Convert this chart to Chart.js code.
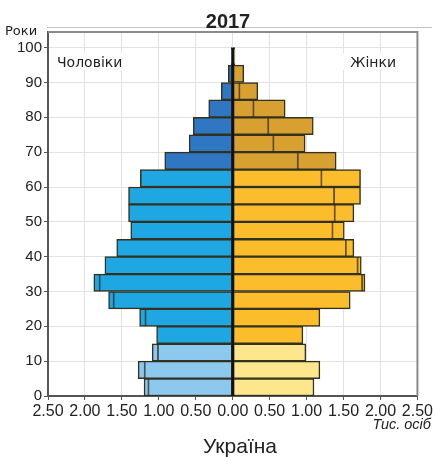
<!DOCTYPE html>
<html><head><meta charset="utf-8">
<script src="https://cdn.jsdelivr.net/npm/chart.js@4/dist/chart.umd.min.js"></script>
<style>html,body{margin:0;padding:0;background:#fff}#wrap{width:435px;height:457px}</style>
</head><body><div id="wrap"><canvas id="c" width="435" height="457"></canvas></div>
<script>
// Age groups (lower bound of each 5-year group)
const ageStarts = [0,5,10,15,20,25,30,35,40,45,50,55,60,65,70,75,80,85,90,95];
const ageGroups = ['0-4','5-9','10-14','15-19','20-24','25-29','30-34','35-39','40-44','45-49','50-54','55-59','60-64','65-69','70-74','75-79','80-84','85-89','90-94','95-99'];
// Population, thousand persons
const maleValues   = [1.20,1.28,1.09,1.03,1.26,1.68,1.88,1.73,1.57,1.38,1.41,1.41,1.25,0.92,0.59,0.535,0.325,0.155,0.06,0.02];
const femaleValues = [1.10,1.18,0.99,0.95,1.18,1.59,1.79,1.74,1.64,1.51,1.64,1.73,1.73,1.40,0.98,1.09,0.71,0.34,0.15,0.03];
// Thin inner marks inside some bars
const maleInner   = [1.15,1.20,1.02,null,1.19,1.62,1.81,null,null,null,null,null,null,null,null,null,null,null,null,null];
const femaleInner = [null,null,null,null,null,null,1.76,1.70,1.54,1.36,1.39,1.38,1.21,0.89,0.56,0.49,0.29,0.10,null,null];
// central axis line between the halves (ages 0..100)
const centerAxisAges = [0, 100];
const yTicks = [0,10,20,30,40,50,60,70,80,90,100];
const xTickStep = 0.5;

const maleColors = {child:'#8dc8ef', work:'#1fa7e3', old:'#2f77c3'};
const femaleColors = {child:'#fde68c', work:'#fbbd2b', old:'#d8a030'};
function colorFor(palette, age){ return age < 15 ? palette.child : (age < 65 ? palette.work : palette.old); }

const FONT = '"Liberation Sans Narrow", "Liberation Sans", Arial, sans-serif';
const FONTW = '"Liberation Sans", Arial, sans-serif';
const FONTD = '"DejaVu Sans", Verdana, sans-serif';

const pts = (vals, sign) => vals.map((v,i) => v === null ? null : ({x: sign*v, y: ageStarts[i] + 2.5})).filter(p => p !== null);

const extras = {
  id:'extras',
  beforeDraw(chart){
    const ctx = chart.ctx;
    ctx.save(); ctx.fillStyle = '#fff'; ctx.fillRect(0,0,chart.width,chart.height);
    ctx.strokeStyle = '#c4c4c4'; ctx.lineWidth = 1;
    ctx.beginPath(); ctx.moveTo(47, 27.5); ctx.lineTo(432, 27.5); ctx.stroke();
    ctx.restore();
  },
  afterDraw(chart){
    const ctx = chart.ctx, a = chart.chartArea;
    ctx.save();
    ctx.strokeStyle = '#8a8a8a'; ctx.lineWidth = 2;
    ctx.beginPath(); ctx.moveTo(a.left, a.top); ctx.lineTo(a.right, a.top); ctx.lineTo(a.right, a.bottom); ctx.stroke();
    ctx.fillStyle = '#222'; ctx.textAlign = 'center'; ctx.textBaseline = 'alphabetic';
    ctx.font = 'bold 20px ' + FONTW;
    ctx.fillText('2017', 228, 28);
    ctx.font = '13px ' + FONTD; ctx.textAlign = 'left';
    ctx.fillText('Роки', 5, 35);
    ctx.font = '14px ' + FONTD;
    ctx.fillStyle = '#fff'; ctx.fillRect(54, 53, 78, 17); ctx.fillRect(336, 53, 64, 17);
    ctx.fillStyle = '#222';
    ctx.fillText('Чоловіки', 57, 67);
    ctx.textAlign = 'right';
    ctx.fillText('Жінки', 396, 67);
    ctx.font = 'italic 14.5px ' + FONTW;
    ctx.fillText('Тис. осіб', 431, 429);
    ctx.textAlign = 'center'; ctx.font = '21px ' + FONTW;
    ctx.fillText('Україна', 240, 453);
    ctx.restore();
  }
};

new Chart(document.getElementById('c'), {
  type:'bar',
  data:{
    datasets:[
      {label:'Чоловіки', data: pts(maleValues,-1), backgroundColor: ageStarts.map(a=>colorFor(maleColors,a)),
       borderColor:'#33321f', borderWidth:1.5, borderSkipped:false, grouped:false, barPercentage:1, categoryPercentage:1, order:3},
      {label:'Жінки', data: pts(femaleValues,1), backgroundColor: ageStarts.map(a=>colorFor(femaleColors,a)),
       borderColor:'#33321f', borderWidth:1.5, borderSkipped:false, grouped:false, barPercentage:1, categoryPercentage:1, order:3},
      {label:'m-inner', data: pts(maleInner,-1), backgroundColor:'rgba(0,0,0,0)', borderColor:'rgba(50,45,30,0.75)',
       borderWidth:{left:1.2,right:0,top:0,bottom:0}, borderSkipped:false, grouped:false, barPercentage:1, categoryPercentage:1, order:2},
      {label:'f-inner', data: pts(femaleInner,1), backgroundColor:'rgba(0,0,0,0)', borderColor:'rgba(50,45,30,0.75)',
       borderWidth:{left:0,right:1.2,top:0,bottom:0}, borderSkipped:false, grouped:false, barPercentage:1, categoryPercentage:1, order:2},
      {type:'line', label:'axis', data: centerAxisAges.map(a=>({x:0, y:a})), borderColor:'#111', borderWidth:2.5,
       pointRadius:0, fill:false, order:1}
    ]
  },
  options:{
    responsive:false, animation:false, devicePixelRatio:1,
    indexAxis:'y',
    layout:{padding:{left:0,right:14,top:32,bottom:0}},
    plugins:{legend:{display:false}, tooltip:{enabled:false}, title:{display:false}},
    scales:{
      x:{type:'linear', min:-2.5, max:2.5, offset:false,
         afterFit(s){ s.height = 61; },
         ticks:{stepSize:xTickStep, autoSkip:false, maxRotation:0, padding:2, color:'#222',
                font:{family:FONT, size:16}, callback:v=>Math.abs(v).toFixed(2)},
         grid:{color:'#e2e2e2', tickLength:4, tickColor:'#555', offset:false},
         border:{color:'#555', width:2}},
      y:{type:'linear', min:0, max:104.5, offset:false,
         afterFit(s){ s.width = 48; },
         afterBuildTicks(s){ s.ticks = yTicks.map(v=>({value:v})); },
         ticks:{autoSkip:false, padding:2, color:'#222', font:{family:FONT, size:15}},
         grid:{color:'#e2e2e2', tickLength:4, tickColor:'#555', offset:false},
         border:{color:'#555', width:2}}
    }
  },
  plugins:[extras]
});
</script></body></html>
